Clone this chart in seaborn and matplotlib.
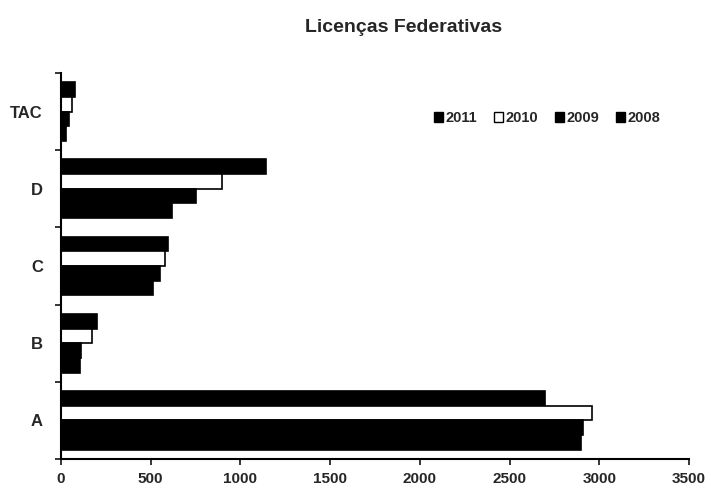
import numpy as np
import pandas as pd
import seaborn as sns
import matplotlib.pyplot as plt
from matplotlib.patches import Patch

categories = ['TAC', 'D', 'C', 'B', 'A']
years = ['2011', '2010', '2009', '2008']
v2011 = [80, 1140, 595, 200, 2700]
v2010 = [60, 900, 580, 170, 2962]
v2009 = [45, 752, 552, 110, 2911]
v2008 = [30, 618, 513, 105, 2897]
xticks = [0, 500, 1000, 1500, 2000, 2500, 3000, 3500]

df = pd.DataFrame({
    'cat': categories * 4,
    'year': np.repeat(years, len(categories)),
    'value': v2011 + v2010 + v2009 + v2008,
})

sns.set_style('ticks')
plt.rcParams['font.family'] = ['Liberation Sans', 'DejaVu Sans']

colors = ['black', 'white', 'black', 'black']

fig = plt.figure(figsize=(7.11, 4.90), dpi=100)
ax = fig.add_axes([61 / 711, 1 - 459 / 490, 628 / 711, 386 / 490])

sns.barplot(data=df, x='value', y='cat', hue='year', order=categories,
            hue_order=years, palette=colors, orient='h', width=0.76,
            edgecolor='black', linewidth=1.2, saturation=1, ax=ax, legend=False)

ax.set_xlim(0, 3500)
ax.set_ylim(4.5, -0.5)
ax.set_xticks(xticks)
ax.set_xticklabels([str(t) for t in xticks], fontsize=11, fontweight='bold')

# category ticks at the group boundaries, labels at the centres
ax.set_yticks(np.arange(-0.5, 5, 1))
ax.set_yticklabels([])
ax.set_yticks(np.arange(5), minor=True)
ax.set_yticklabels(categories, minor=True, fontsize=12, fontweight='bold')
ax.tick_params(axis='y', which='minor', length=0, pad=13)
ax.tick_params(axis='x', which='major', pad=5)
ax.tick_params(axis='both', which='major', length=4, width=1.3, direction='out')

ax.set_xlabel('')
ax.set_ylabel('')
sns.despine(ax=ax)
for s in ['left', 'bottom']:
    ax.spines[s].set_linewidth(1.5)
    ax.spines[s].set_color('black')

handles = [Patch(facecolor=c, edgecolor='black', linewidth=1) for c in colors]
ax.legend(handles, years, ncol=4, frameon=False, loc='upper right',
          bbox_to_anchor=(0.975, 0.935), handlelength=0.6, handleheight=0.7,
          handletextpad=0.15, columnspacing=1.2,
          prop={'size': 10.5, 'weight': 'bold'})

fig.text(404 / 711, 1 - 27 / 490, 'Licenças Federativas', ha='center', va='center',
         fontsize=14, fontweight='bold')

fig.savefig('out.png', dpi=100)
